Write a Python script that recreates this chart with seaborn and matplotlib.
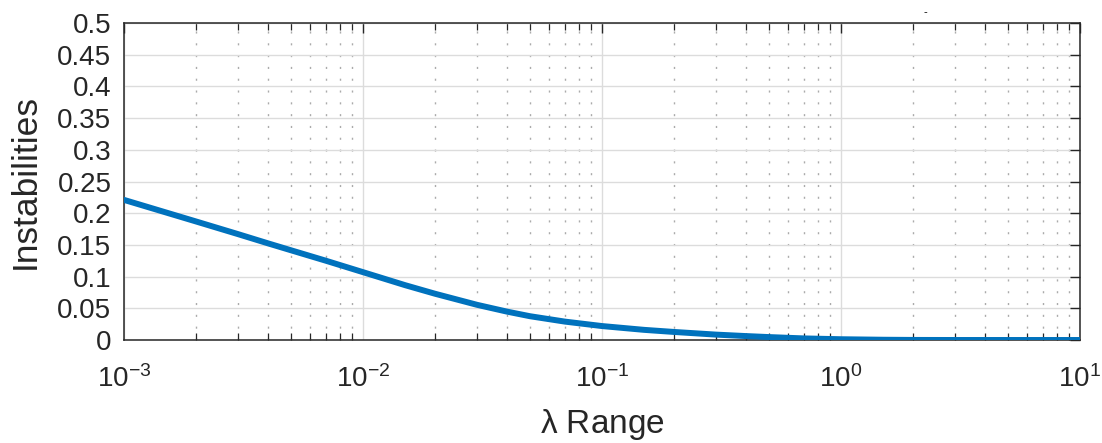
import numpy as np
import pandas as pd
import matplotlib
matplotlib.use("Agg")
import matplotlib.pyplot as plt
import seaborn as sns
from matplotlib.ticker import LogLocator, FixedLocator, FixedFormatter, NullFormatter

lam = [1e-3, 2e-3, 3e-3, 4e-3, 5e-3, 7e-3, 1e-2, 1.5e-2, 2e-2, 3e-2, 4e-2, 5e-2, 7e-2,
       1e-1, 1.5e-1, 2e-1, 3e-1, 4e-1, 5e-1, 7e-1, 1.0, 1.5, 2.0, 3.0, 5.0, 10.0]
inst = [0.221, 0.187, 0.167, 0.1525, 0.1415, 0.125, 0.107, 0.0865, 0.073, 0.0555, 0.0448, 0.0375, 0.029,
        0.022, 0.016, 0.0127, 0.0085, 0.0062, 0.0046, 0.0025, 0.0012, 0.0004, 0.0001, 0.0, 0.0, 0.0]
yticks = [0, 0.05, 0.1, 0.15, 0.2, 0.25, 0.3, 0.35, 0.4, 0.45, 0.5]
ytick_labels = ["0", "0.05", "0.1", "0.15", "0.2", "0.25", "0.3", "0.35", "0.4", "0.45", "0.5"]
xticks = [1e-3, 1e-2, 1e-1, 1e0, 1e1]
xtick_labels = [r"$10^{-3}$", r"$10^{-2}$", r"$10^{-1}$", r"$10^{0}$", r"$10^{1}$"]

sns.set_style("white")
plt.rcParams["font.family"] = ["Liberation Sans", "DejaVu Sans"]
plt.rcParams["mathtext.fontset"] = "custom"
plt.rcParams["mathtext.rm"] = "Liberation Sans"
plt.rcParams["mathtext.it"] = "Liberation Sans:italic"
plt.rcParams["mathtext.default"] = "regular"

df = pd.DataFrame({"lam": lam, "inst": inst})

fig = plt.figure(figsize=(11.02, 4.43), dpi=100)
ax = fig.add_axes([124/1102, 1-340/443, (1080-124)/1102, (340-23)/443])

sns.lineplot(data=df, x="lam", y="inst", ax=ax, color="#0072BD", linewidth=4.3, zorder=3)
ax.set_xscale("log")
ax.set_xlim(1e-3, 1e1)
ax.set_ylim(0, 0.5)

ax.xaxis.set_major_locator(FixedLocator(xticks))
ax.xaxis.set_major_formatter(FixedFormatter(xtick_labels))
ax.xaxis.set_minor_locator(LogLocator(base=10, subs=np.arange(2, 10)))
ax.xaxis.set_minor_formatter(NullFormatter())
ax.yaxis.set_major_locator(FixedLocator(yticks))
ax.yaxis.set_major_formatter(FixedFormatter(ytick_labels))

ax.grid(which="major", axis="both", color="#dcdcdc", linewidth=1.0, linestyle="-")
ax.grid(which="minor", axis="x", color="#ababab", linewidth=1.0, linestyle=(0, (1.5, 7)))
ax.set_axisbelow(True)

for s in ax.spines.values():
    s.set_color("#262626")
    s.set_linewidth(1.1)
    s.set_visible(True)

ax.tick_params(which="major", direction="in", length=7.5, width=1.0, color="#262626",
               top=True, right=True, labelsize=20, labelcolor="#262626")
ax.tick_params(which="minor", direction="in", length=5.2, width=0.9, color="#262626",
               top=True, bottom=True)
ax.tick_params(axis="y", which="major", pad=9)
ax.tick_params(axis="x", which="major", pad=18)

xl = ax.set_xlabel(r"$\lambda$ Range", fontsize=24, color="#262626", labelpad=10)
xl.set_math_fontfamily("cm")
ax.set_ylabel("Instabilities", fontsize=25.5, color="#262626", labelpad=11)

fig.text(925/1102, 1-12/443, "-", fontsize=8, ha="center", va="center", color="black")

fig.savefig("out.png", dpi=100)
